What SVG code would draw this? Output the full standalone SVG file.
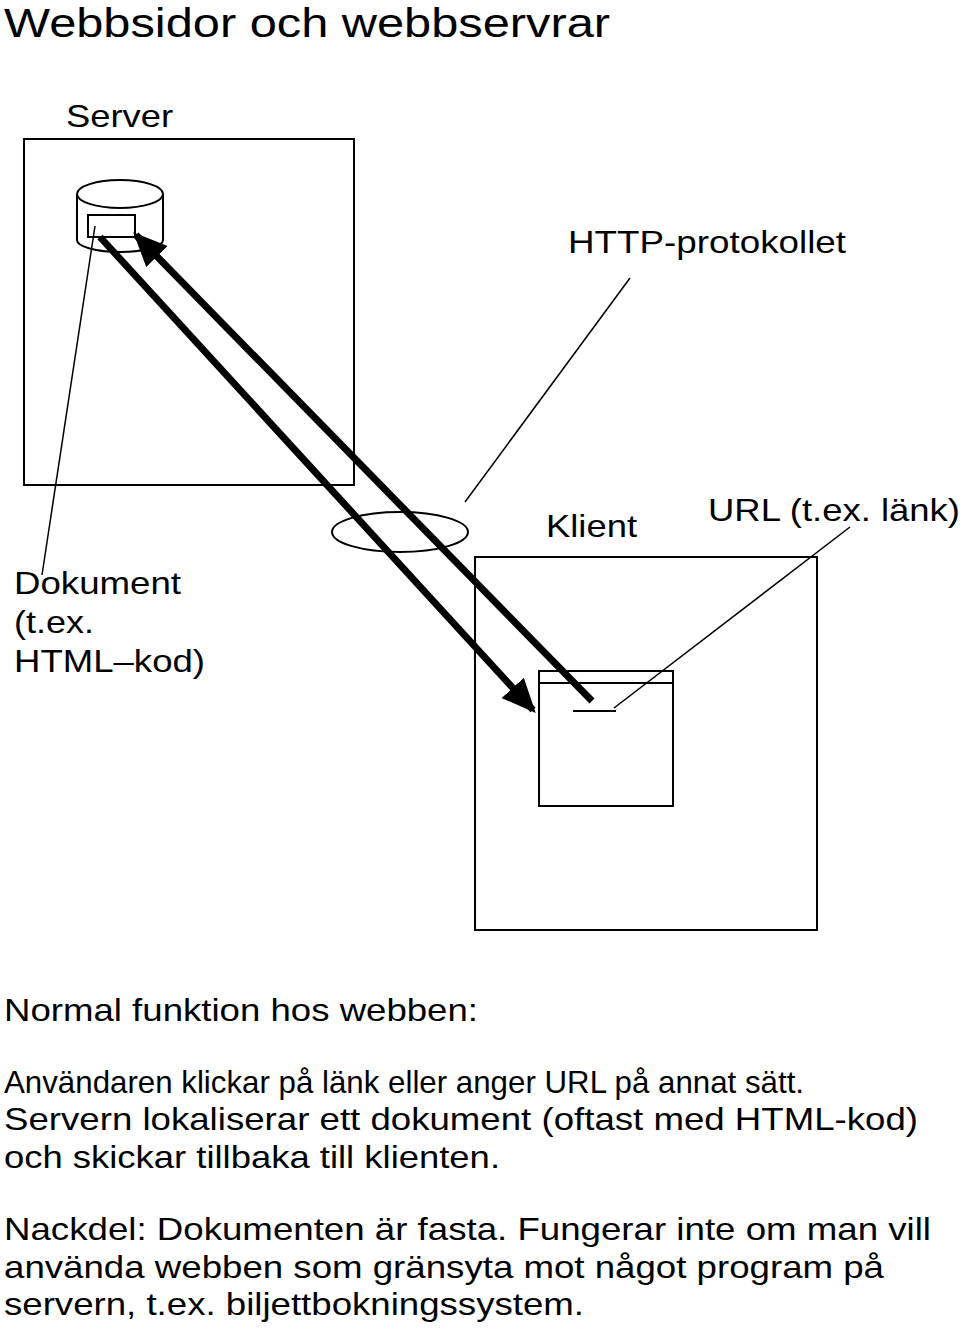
<svg xmlns="http://www.w3.org/2000/svg" width="960" height="1328" viewBox="0 0 960 1328">
<style>
text{font-family:"Liberation Sans",Arial,sans-serif;fill:#000;font-size:32px}
.s{fill:none;stroke:#000;stroke-width:2}
.t{fill:none;stroke:#000;stroke-width:1.5}
.a{stroke:#000;stroke-width:7;fill:none}
</style>
<defs>
<marker id="ah" markerUnits="userSpaceOnUse" markerWidth="34" markerHeight="30" refX="30" refY="15" orient="auto"><path d="M0,0 L34,15 L0,30 z" fill="#000"/></marker>
</defs>
<rect width="960" height="1328" fill="#fff"/>
<text x="4" y="37" style="font-size:40px" textLength="606" lengthAdjust="spacingAndGlyphs">Webbsidor och webbservrar</text>
<g id="server">
<text x="66" y="127" textLength="107" lengthAdjust="spacingAndGlyphs">Server</text>
<rect class="s" x="24" y="139" width="330" height="346"/>
</g>
<g id="db">
<path class="s" d="M77,194 V240 A43,12 0 0 0 163,240 V194"/>
<ellipse class="s" cx="120" cy="194" rx="43" ry="14" fill="#fff"/>
<rect class="s" x="88" y="215" width="47" height="22"/>
</g>
<g id="http"><text x="568" y="253" textLength="278" lengthAdjust="spacingAndGlyphs">HTTP-protokollet</text><ellipse class="s" cx="400" cy="532" rx="68" ry="20"/></g>
<g id="client">
<text x="546" y="537" textLength="91" lengthAdjust="spacingAndGlyphs">Klient</text>
<rect class="s" x="475" y="557" width="342" height="373"/>
</g>
<g id="browser">
<rect class="s" x="539" y="671" width="134" height="135"/>
<line class="s" x1="539" y1="683" x2="673" y2="683"/>
<line class="s" x1="573" y1="711" x2="616" y2="711"/>
</g>
<g id="url"><text x="708" y="521" textLength="252" lengthAdjust="spacingAndGlyphs">URL (t.ex. länk)</text></g>
<g id="doc"><text x="14" y="594" textLength="167" lengthAdjust="spacingAndGlyphs">Dokument</text><text x="14" y="633" textLength="80" lengthAdjust="spacingAndGlyphs">(t.ex.</text><text x="14" y="672" textLength="191" lengthAdjust="spacingAndGlyphs">HTML–kod)</text></g>
<g id="connectors">
<line class="a" x1="100" y1="237" x2="533" y2="710" marker-end="url(#ah)"/>
<line class="a" x1="592" y1="701" x2="136" y2="235" marker-end="url(#ah)"/>
<line class="t" x1="95" y1="226" x2="42" y2="575"/>
<line class="t" x1="630" y1="278" x2="465" y2="502"/>
<line class="t" x1="850" y1="527" x2="614" y2="708"/>
</g>
<g id="desc">
<text x="4" y="1021" textLength="474" lengthAdjust="spacingAndGlyphs">Normal funktion hos webben:</text>
<text x="4" y="1093" textLength="800" lengthAdjust="spacingAndGlyphs">Användaren klickar på länk eller anger URL på annat sätt.</text>
<text x="4" y="1130" textLength="914" lengthAdjust="spacingAndGlyphs">Servern lokaliserar ett dokument (oftast med HTML-kod)</text>
<text x="4" y="1168" textLength="496" lengthAdjust="spacingAndGlyphs">och skickar tillbaka till klienten.</text>
<text x="4" y="1240" textLength="927" lengthAdjust="spacingAndGlyphs">Nackdel: Dokumenten är fasta. Fungerar inte om man vill</text>
<text x="4" y="1278" textLength="880" lengthAdjust="spacingAndGlyphs">använda webben som gränsyta mot något program på</text>
<text x="4" y="1315" textLength="580" lengthAdjust="spacingAndGlyphs">servern, t.ex. biljettbokningssystem.</text>
</g>
</svg>
